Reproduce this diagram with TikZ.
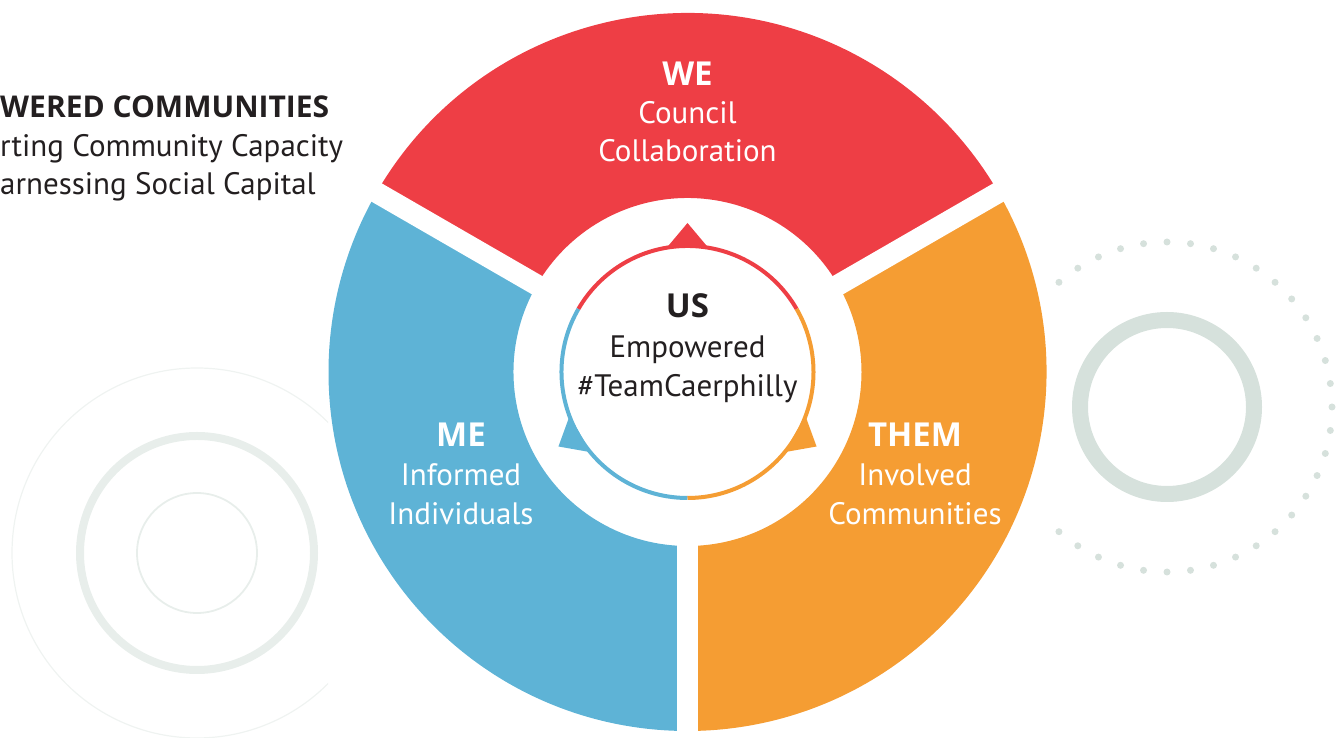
\documentclass[tikz,border=0pt]{standalone}
\usepackage{fontspec}
\setmainfont{PT Sans}
\newfontfamily\headfont{Open Sans}
\usetikzlibrary{positioning}
\definecolor{wered}{HTML}{EE3E45}
\definecolor{meblue}{HTML}{5EB3D6}
\definecolor{themorange}{HTML}{F59D33}
\definecolor{ink}{HTML}{231F20}
\definecolor{mist}{HTML}{E8EEEB}
\definecolor{sage}{HTML}{D6E1DC}
\tikzset{head/.style = {anchor = base, inner sep = 0, font = \headfont\fontsize{33}{38}\selectfont\bfseries}}
\tikzset{txt/.style = {anchor = base, inner sep = 0, font = \fontsize{31}{38}\selectfont}}
\tikzset{gap/.style = {white, line width = 21}}

\begin{document}
\begin{tikzpicture}[x = 1pt, y = 1pt]
    \useasboundingbox (0, 0) rectangle (1336, 738);

    % faint rings, left
    \begin{scope}
      \clip (0, 0) rectangle (328, 738);
      \draw [mist!70, line width = 1.2] (197, 185) circle [radius = 185];
    \end{scope}
    \draw [mist, line width = 8] (197, 185) circle [radius = 117];
    \draw [mist, line width = 1.8] (197, 185) circle [radius = 60];

    % ring and dotted circle, right
    \draw [sage, line width = 16] (1167, 331) circle [radius = 87];
    \begin{scope}
      \clip (1047, 0) rectangle (1336, 738);
      \foreach \a in {0, ..., 43}
        \fill [sage] (1167, 331) ++(\a*360/44:165) circle [radius = 3.5];
    \end{scope}

    % the three segments
    \begin{scope}[shift = {(687.5, 366)}]
      \fill [wered] (30:174) arc [start angle = 30, end angle = 150, radius = 174]
        -- (150:359) arc [start angle = 150, end angle = 30, radius = 359] -- cycle;
      \fill [meblue] (150:174) arc [start angle = 150, end angle = 270, radius = 174]
        -- (270:359) arc [start angle = 270, end angle = 150, radius = 359] -- cycle;
      \fill [themorange] (270:174) arc [start angle = 270, end angle = 390, radius = 174]
        -- (30:359) arc [start angle = 390, end angle = 270, radius = 359] -- cycle;
      \draw [gap] (0, 0) -- (30:365);
      \draw [gap] (0, 0) -- (150:365);
      \draw [gap] (0, 0) -- (270:365);
      \fill [white] (0, 0) circle [radius = 150];

      % inner ring with its three pointers
      \draw [wered, line width = 4] (30:126) arc [start angle = 30, end angle = 150, radius = 126];
      \draw [meblue, line width = 4] (150:126) arc [start angle = 150, end angle = 270, radius = 126];
      \draw [themorange, line width = 4] (270:126) arc [start angle = 270, end angle = 390, radius = 126];
      \fill [wered, rotate = 90] (124, -21) -- (149, 0) -- (124, 21) -- cycle;
      \fill [meblue, rotate = 210] (124, -21) -- (149, 0) -- (124, 21) -- cycle;
      \fill [themorange, rotate = 330] (124, -21) -- (149, 0) -- (124, 21) -- cycle;
    \end{scope}

    \node [head, white] (we) at (687.5, 652) {WE};
    \node [txt, white] (council) at (687.5, 614) {Council};
    \node [txt, white] (collab) at (687.5, 576) {Collaboration};

    \node [head, ink] (us) at (687.5, 420) {US};
    \node [txt, ink] (empowered) at (687.5, 380) {Empowered};
    \node [txt, ink] (team) at (687.5, 341) {\#TeamCaerphilly};

    \node [head, white] (me) at (461, 291) {ME};
    \node [txt, white] (informed) at (461, 252) {Informed};
    \node [txt, white] (individuals) at (461, 213) {Individuals};

    \node [head, white] (them) at (915, 291) {THEM};
    \node [txt, white] (involved) at (915, 252) {Involved};
    \node [txt, white] (communities) at (915, 213) {Communities};

    \node [head, ink, anchor = base west, font = \headfont\fontsize{30}{38}\selectfont\bfseries]
      (title) at (0, 620) {WERED COMMUNITIES};
    \node [txt, ink, anchor = base west] (capacity) at (0, 581) {rting Community Capacity};
    \node [txt, ink, anchor = base west] (capital) at (0, 543) {arnessing Social Capital};
  \end{tikzpicture}
\end{document}
